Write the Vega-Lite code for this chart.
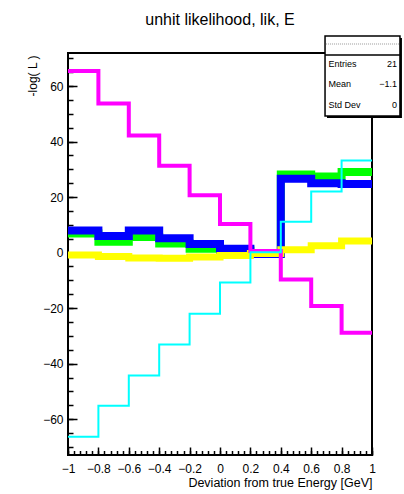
{
  "$schema": "https://vega.github.io/schema/vega-lite/v6.json",
  "width": 304,
  "height": 402,
  "autosize": "none",
  "padding": {"left": 68, "top": 53, "right": 32, "bottom": 39},
  "background": "white",
  "config": {
    "font": "Liberation Sans",
    "view": {"stroke": "black", "strokeWidth": 2},
    "axis": {"grid": false, "domain": false, "labelColor": "black", "tickColor": "black", "titleColor": "black", "titleFontWeight": "normal", "labelFont": "Liberation Sans", "titleFont": "Liberation Sans"}
  },
  "title": {"text": "unhit likelihood, lik, E", "fontSize": 16, "fontWeight": "normal", "frame": "group", "anchor": "middle", "offset": 7, "color": "black", "font": "Liberation Sans"},
  "datasets": {
    "hist": [
      {"series": "green", "x": -1, "y": 6.9}, {"series": "green", "x": -0.8, "y": 3.9}, {"series": "green", "x": -0.6, "y": 5.6}, {"series": "green", "x": -0.4, "y": 3.3}, {"series": "green", "x": -0.2, "y": 1.4}, {"series": "green", "x": 0, "y": 0.8}, {"series": "green", "x": 0.2, "y": -0.2}, {"series": "green", "x": 0.4, "y": 28.1}, {"series": "green", "x": 0.6, "y": 27.4}, {"series": "green", "x": 0.8, "y": 29.0}, {"series": "green", "x": 1, "y": 29.0},
      {"series": "blue", "x": -1, "y": 8.0}, {"series": "blue", "x": -0.8, "y": 6.0}, {"series": "blue", "x": -0.6, "y": 8.0}, {"series": "blue", "x": -0.4, "y": 5.2}, {"series": "blue", "x": -0.2, "y": 3.1}, {"series": "blue", "x": 0, "y": 1.4}, {"series": "blue", "x": 0.2, "y": -0.5}, {"series": "blue", "x": 0.4, "y": 26.6}, {"series": "blue", "x": 0.6, "y": 25.0}, {"series": "blue", "x": 0.8, "y": 24.7}, {"series": "blue", "x": 1, "y": 24.7},
      {"series": "yellow", "x": -1, "y": -0.9}, {"series": "yellow", "x": -0.8, "y": -1.4}, {"series": "yellow", "x": -0.6, "y": -1.9}, {"series": "yellow", "x": -0.4, "y": -2.0}, {"series": "yellow", "x": -0.2, "y": -1.6}, {"series": "yellow", "x": 0, "y": -1.0}, {"series": "yellow", "x": 0.2, "y": -0.3}, {"series": "yellow", "x": 0.4, "y": 1.0}, {"series": "yellow", "x": 0.6, "y": 2.5}, {"series": "yellow", "x": 0.8, "y": 4.2}, {"series": "yellow", "x": 1, "y": 4.2},
      {"series": "magenta", "x": -1, "y": 65.4}, {"series": "magenta", "x": -0.8, "y": 53.7}, {"series": "magenta", "x": -0.6, "y": 42.2}, {"series": "magenta", "x": -0.4, "y": 31.3}, {"series": "magenta", "x": -0.2, "y": 20.7}, {"series": "magenta", "x": 0, "y": 10.3}, {"series": "magenta", "x": 0.2, "y": 0.6}, {"series": "magenta", "x": 0.4, "y": -9.7}, {"series": "magenta", "x": 0.6, "y": -19.2}, {"series": "magenta", "x": 0.8, "y": -28.9}, {"series": "magenta", "x": 1, "y": -28.9},
      {"series": "cyan", "x": -1, "y": -66.3}, {"series": "cyan", "x": -0.8, "y": -55.2}, {"series": "cyan", "x": -0.6, "y": -44.3}, {"series": "cyan", "x": -0.4, "y": -33.1}, {"series": "cyan", "x": -0.2, "y": -22.0}, {"series": "cyan", "x": 0, "y": -10.8}, {"series": "cyan", "x": 0.2, "y": 0.1}, {"series": "cyan", "x": 0.4, "y": 11.1}, {"series": "cyan", "x": 0.6, "y": 22.0}, {"series": "cyan", "x": 0.8, "y": 33.2}, {"series": "cyan", "x": 1, "y": 33.2}
    ]
  },
  "data": {"name": "hist"},
  "layer": [
    {
      "transform": [{"filter": "datum.series === 'green'"}],
      "mark": {"type": "line", "interpolate": "step-after", "color": "#00ff00", "strokeWidth": 8, "strokeCap": "butt", "strokeJoin": "miter"},
      "encoding": {
        "x": {"field": "x", "type": "quantitative", "scale": {"domain": [-1, 1], "nice": false, "zero": false},
          "axis": {"orient": "bottom", "values": [-1, -0.8, -0.6, -0.4, -0.2, 0, 0.2, 0.4, 0.6, 0.8, 1], "format": ".1~f", "ticks": false, "labelFontSize": 12, "labelPadding": 8, "labelFlush": false, "labelOverlap": false,
            "title": "Deviation from true Energy [GeV]", "titleFontSize": 12.5, "titleAlign": "right", "titleAnchor": "end", "titleX": 304, "titleY": 31, "titleBaseline": "alphabetic"}},
        "y": {"field": "y", "type": "quantitative", "scale": {"domain": [-72.9, 71.9], "nice": false, "zero": false},
          "axis": {"orient": "left", "values": [-60, -40, -20, 0, 20, 40, 60], "format": "d", "ticks": false, "labelFontSize": 12, "labelPadding": 5, "labelOverlap": false,
            "title": "-log( L )", "titleFontSize": 12, "titleAngle": 270, "titleAlign": "right", "titleAnchor": "end", "titleX": -32, "titleY": 2, "titleBaseline": "alphabetic"}}
      }
    },
    {
      "transform": [{"filter": "datum.series === 'blue'"}],
      "mark": {"type": "line", "interpolate": "step-after", "color": "#0000ff", "strokeWidth": 8, "strokeCap": "butt", "strokeJoin": "miter"},
      "encoding": {
        "x": {"field": "x", "type": "quantitative", "scale": {"domain": [-1, 1], "nice": false, "zero": false}, "axis": {"orient": "bottom", "values": [-1, -0.8, -0.6, -0.4, -0.2, 0, 0.2, 0.4, 0.6, 0.8, 1], "labels": false, "ticks": true, "tickSize": -8, "tickWidth": 1.5, "title": null}},
        "y": {"field": "y", "type": "quantitative", "scale": {"domain": [-72.9, 71.9], "nice": false, "zero": false}, "axis": {"orient": "left", "values": [-60, -40, -20, 0, 20, 40, 60], "labels": false, "ticks": true, "tickSize": -9, "tickWidth": 1.5, "title": null}}
      }
    },
    {
      "transform": [{"filter": "datum.series === 'yellow'"}],
      "mark": {"type": "line", "interpolate": "step-after", "color": "#ffff00", "strokeWidth": 7, "strokeCap": "butt", "strokeJoin": "miter"},
      "encoding": {
        "x": {"field": "x", "type": "quantitative", "scale": {"domain": [-1, 1], "nice": false, "zero": false}, "axis": {"orient": "bottom", "values": [-1, -0.96, -0.92, -0.88, -0.84, -0.8, -0.76, -0.72, -0.68, -0.64, -0.6, -0.56, -0.52, -0.48, -0.44, -0.4, -0.36, -0.32, -0.28, -0.24, -0.2, -0.16, -0.12, -0.08, -0.04, 0, 0.04, 0.08, 0.12, 0.16, 0.2, 0.24, 0.28, 0.32, 0.36, 0.4, 0.44, 0.48, 0.52, 0.56, 0.6, 0.64, 0.68, 0.72, 0.76, 0.8, 0.84, 0.88, 0.92, 0.96, 1], "labels": false, "ticks": true, "tickSize": -4.5, "tickWidth": 1.5, "title": null}},
        "y": {"field": "y", "type": "quantitative", "scale": {"domain": [-72.9, 71.9], "nice": false, "zero": false}, "axis": {"orient": "left", "values": [-70, -65, -60, -55, -50, -45, -40, -35, -30, -25, -20, -15, -10, -5, 0, 5, 10, 15, 20, 25, 30, 35, 40, 45, 50, 55, 60, 65, 70], "labels": false, "ticks": true, "tickSize": -5, "tickWidth": 1.5, "title": null}}
      }
    },
    {
      "transform": [{"filter": "datum.series === 'magenta'"}],
      "mark": {"type": "line", "interpolate": "step-after", "color": "#ff00ff", "strokeWidth": 4, "strokeCap": "butt", "strokeJoin": "miter"},
      "encoding": {
        "x": {"field": "x", "type": "quantitative", "scale": {"domain": [-1, 1], "nice": false, "zero": false}, "axis": null},
        "y": {"field": "y", "type": "quantitative", "scale": {"domain": [-72.9, 71.9], "nice": false, "zero": false}, "axis": null}
      }
    },
    {
      "transform": [{"filter": "datum.series === 'cyan'"}],
      "mark": {"type": "line", "interpolate": "step-after", "color": "#00ffff", "strokeWidth": 2, "strokeCap": "butt", "strokeJoin": "miter"},
      "encoding": {
        "x": {"field": "x", "type": "quantitative", "scale": {"domain": [-1, 1], "nice": false, "zero": false}, "axis": null},
        "y": {"field": "y", "type": "quantitative", "scale": {"domain": [-72.9, 71.9], "nice": false, "zero": false}, "axis": null}
      }
    },
    {
      "data": {"values": [{}]},
      "mark": {"type": "rect", "fill": "black", "clip": false},
      "encoding": {
        "x": {"datum": 0.704, "type": "quantitative", "scale": {"domain": [-1, 1], "nice": false, "zero": false}, "axis": null},
        "x2": {"datum": 1.197},
        "y": {"datum": 77.3, "type": "quantitative", "scale": {"domain": [-72.9, 71.9], "nice": false, "zero": false}, "axis": null},
        "y2": {"datum": 48.49}
      }
    },
    {
      "data": {"values": [{}]},
      "mark": {"type": "rect", "fill": "white", "stroke": "black", "strokeWidth": 1.5, "clip": false},
      "encoding": {
        "x": {"datum": 0.691, "type": "quantitative", "scale": {"domain": [-1, 1], "nice": false, "zero": false}, "axis": null},
        "x2": {"datum": 1.184},
        "y": {"datum": 78.02, "type": "quantitative", "scale": {"domain": [-72.9, 71.9], "nice": false, "zero": false}, "axis": null},
        "y2": {"datum": 49.21}
      }
    },
    {
      "data": {"values": [{}]},
      "mark": {"type": "rule", "color": "black", "strokeWidth": 1.5, "clip": false},
      "encoding": {
        "x": {"datum": 0.691, "type": "quantitative", "scale": {"domain": [-1, 1], "nice": false, "zero": false}, "axis": null},
        "x2": {"datum": 1.184},
        "y": {"datum": 71.18, "type": "quantitative", "scale": {"domain": [-72.9, 71.9], "nice": false, "zero": false}, "axis": null}
      }
    },
    {
      "data": {"values": [{}]},
      "mark": {"type": "rule", "color": "#999999", "strokeWidth": 1, "strokeDash": [1, 1], "clip": false},
      "encoding": {
        "x": {"datum": 0.697, "type": "quantitative", "scale": {"domain": [-1, 1], "nice": false, "zero": false}, "axis": null},
        "x2": {"datum": 1.178},
        "y": {"datum": 75.14, "type": "quantitative", "scale": {"domain": [-72.9, 71.9], "nice": false, "zero": false}, "axis": null}
      }
    },
    {
      "data": {"values": [{}]},
      "mark": {"type": "text", "text": ["Entries", "Mean", "Std Dev"], "lineHeight": 20.5, "align": "left", "baseline": "alphabetic", "fontSize": 9, "color": "black", "clip": false},
      "encoding": {
        "x": {"datum": 0.714, "type": "quantitative", "scale": {"domain": [-1, 1], "nice": false, "zero": false}, "axis": null},
        "y": {"datum": 66.86, "type": "quantitative", "scale": {"domain": [-72.9, 71.9], "nice": false, "zero": false}, "axis": null}
      }
    },
    {
      "data": {"values": [{}]},
      "mark": {"type": "text", "text": ["21", "−1.1", "0"], "lineHeight": 20.5, "align": "right", "baseline": "alphabetic", "fontSize": 9, "color": "black", "clip": false},
      "encoding": {
        "x": {"datum": 1.164, "type": "quantitative", "scale": {"domain": [-1, 1], "nice": false, "zero": false}, "axis": null},
        "y": {"datum": 66.86, "type": "quantitative", "scale": {"domain": [-72.9, 71.9], "nice": false, "zero": false}, "axis": null}
      }
    }
  ],
  "resolve": {"axis": {"x": "independent", "y": "independent"}}
}
